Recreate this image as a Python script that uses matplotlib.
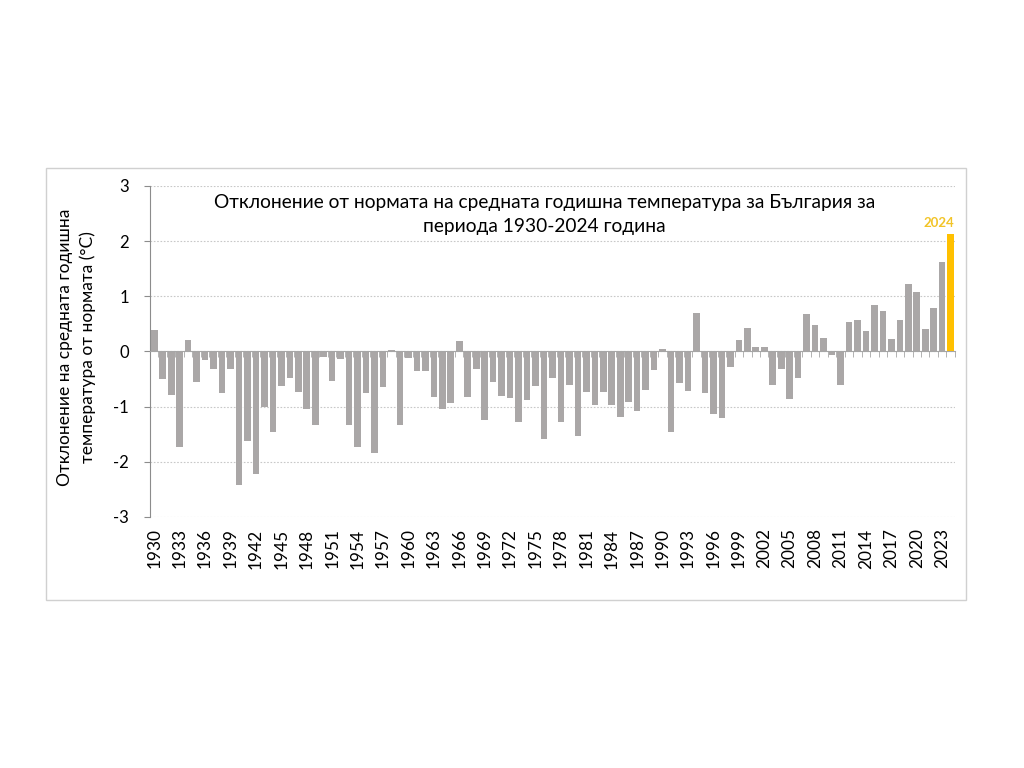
import numpy as np
import matplotlib.pyplot as plt
from matplotlib.patches import Rectangle

plt.rcParams['font.family'] = ['Lato', 'DejaVu Sans']

# години и отклонение от нормата (°C)
years = list(range(1930, 2025))
anomaly = [0.38, -0.50, -0.79, -1.74, 0.21, -0.56, -0.16, -0.32, -0.75, -0.32,
           -2.43, -1.62, -2.22, -1.00, -1.47, -0.62, -0.49, -0.73, -1.05, -1.34,
           -0.11, -0.53, -0.13, -1.34, -1.73, -0.76, -1.85, -0.65, 0.03, -1.33,
           -0.12, -0.35, -0.35, -0.82, -1.05, -0.94, 0.19, -0.82, -0.32, -1.24,
           -0.55, -0.81, -0.84, -1.28, -0.88, -0.62, -1.58, -0.48, -1.28, -0.61,
           -1.53, -0.74, -0.97, -0.73, -0.97, -1.19, -0.91, -1.08, -0.70, -0.33,
           0.04, -1.47, -0.57, -0.72, 0.70, -0.76, -1.14, -1.21, -0.28, 0.21,
           0.43, 0.07, 0.07, -0.61, -0.32, -0.87, -0.49, 0.68, 0.47, 0.25,
           -0.07, -0.61, 0.53, 0.56, 0.36, 0.84, 0.73, 0.22, 0.57, 1.22,
           1.08, 0.41, 0.79, 1.62, 2.13]
highlight_year = 2024
label_years = years[::3]

title = 'Отклонение от нормата на средната годишна температура за България за\nпериода 1930-2024 година'
ylabel = 'Отклонение на средната годишна\nтемпература от нормата (°C)'

gray = '#aaa7a7'
gold = '#ffc000'

fig = plt.figure(figsize=(10.24, 7.68), dpi=100)
fig.patches.append(Rectangle((0.045, 0.219), 0.898, 0.5625, transform=fig.transFigure,
                             fill=False, edgecolor='#d0d0d0', linewidth=1))
ax = fig.add_axes([0.1465, 0.327, 0.786, 0.431])

x = np.arange(len(years))
colors = [gold if y == highlight_year else gray for y in years]
ax.bar(x, anomaly, width=0.78, color=colors, zorder=2)

ax.set_xlim(-0.5, len(years) - 0.5)
ax.set_ylim(-3, 3)
ax.set_yticks(range(-3, 4))
ax.set_yticklabels([str(v) for v in range(-3, 4)], fontsize=12)
ax.grid(axis='y', linestyle=(0, (1.5, 1.5)), color='#c8c8c8', linewidth=0.8, zorder=0)

# оста при нулата с черти между категориите
ax.spines['bottom'].set_position(('data', 0))
ax.spines['bottom'].set_color('#a6a6a6')
ax.spines['bottom'].set_zorder(3)
ax.spines['top'].set_visible(False)
ax.spines['right'].set_visible(False)
ax.spines['left'].set_color('#8c8c8c')
ax.set_xticks([])
ax.set_xticks(np.arange(-0.5, len(years)), minor=True)
ax.tick_params(axis='x', which='minor', length=4, color='#a6a6a6', direction='out')
ax.tick_params(axis='y', length=4, color='#8c8c8c', pad=11)

for yr in label_years:
    i = years.index(yr)
    ax.text(i, -0.035, str(yr), transform=ax.get_xaxis_transform(), rotation=90,
            ha='center', va='top', fontsize=12.4)

hi = years.index(highlight_year)
ax.text(hi + 0.45, anomaly[hi] + 0.08, str(highlight_year), ha='right', va='bottom',
        fontsize=9.5, fontweight='bold', color='#f2c428', zorder=4)

ax.text(0.49, 0.975, title, transform=ax.transAxes, ha='center', va='top',
        fontsize=13.8, linespacing=1.5)
fig.text(0.075, 0.548, ylabel, rotation=90, ha='center', va='center', fontsize=12.5,
         linespacing=1.45)

plt.savefig('out.png', dpi=100)
